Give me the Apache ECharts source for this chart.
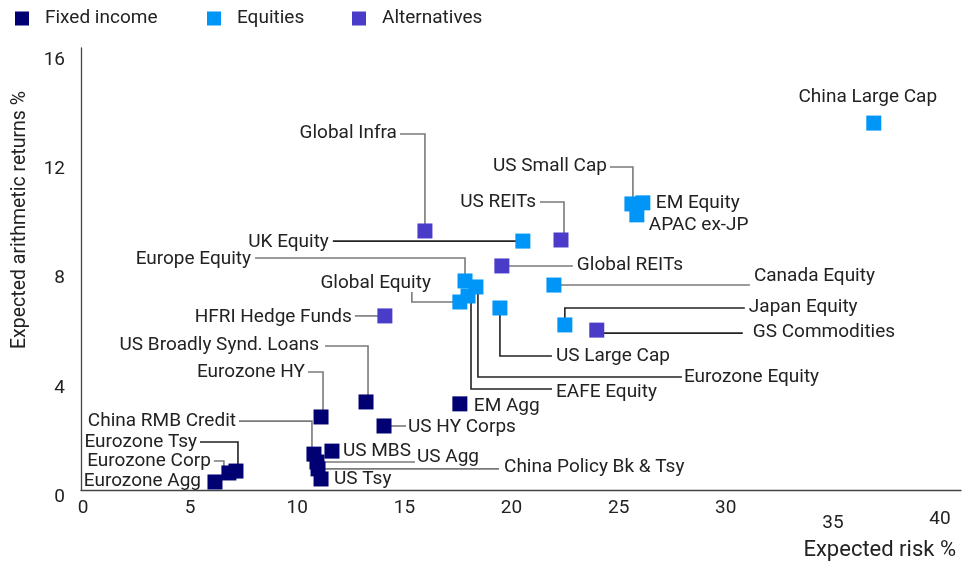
<!DOCTYPE html>
<html>
<head>
<meta charset="utf-8">
<script src="https://cdn.jsdelivr.net/npm/echarts@6/dist/echarts.min.js"></script>
<style>
  html, body { margin: 0; padding: 0; background: #fff; }
  #chart { width: 974px; height: 565px; }
</style>
</head>
<body>
<div id="chart"></div>
<script>
// ---------- DATA ----------
const seriesNames = ['Fixed income', 'Equities', 'Alternatives'];

const fixedNames = ['Eurozone Agg', 'Eurozone Corp', 'Eurozone Tsy', 'China RMB Credit', 'US Agg',
  'China Policy Bk & Tsy', 'US Tsy', 'US MBS', 'Eurozone HY', 'US Broadly Synd. Loans', 'US HY Corps', 'EM Agg'];
const fixedRisk   = [6.16, 6.81, 7.14, 10.78, 10.92, 10.97, 11.11, 11.62, 11.11, 13.21, 14.05, 17.59];
const fixedReturn = [0.55, 0.88, 0.95, 1.57, 1.28, 1.03, 0.66, 1.68, 2.93, 3.48, 2.60, 3.41];

const equityNames = ['China Large Cap', 'US Small Cap', 'APAC ex-JP', 'EM Equity', 'UK Equity', 'Europe Equity',
  'Eurozone Equity', 'EAFE Equity', 'Global Equity', 'US Large Cap', 'Canada Equity', 'Japan Equity'];
const equityRisk   = [36.91, 25.62, 25.85, 26.13, 20.53, 17.83, 18.34, 17.97, 17.59, 19.46, 21.98, 22.49];
const equityReturn = [13.69, 10.73, 10.33, 10.77, 9.37, 7.91, 7.69, 7.36, 7.14, 6.92, 7.76, 6.30];

const altNames = ['Global Infra', 'US REITs', 'Global REITs', 'HFRI Hedge Funds', 'GS Commodities'];
const altRisk   = [15.96, 22.31, 19.55, 14.09, 23.98];
const altReturn = [9.74, 9.41, 8.46, 6.63, 6.11];

const xTicks = [0, 5, 10, 15, 20, 25, 30, 35, 40];
const yTicks = [0, 4, 8, 12, 16];

// ---------- STYLE / LAYOUT ----------
const colors = ['#000073', '#0096F7', '#4A3BC9'];
const legendLeft = [10, 202, 347];
const FONT = 'Roboto';
const TXT = '#222222';
const G = '#7a7a7a';
const K = '#222222';

// label offsets (pixels, relative to the marker centre) and leader line shapes
const labelLayout = {
  'Eurozone Agg': { lx: -14, ly: -1, al: 'right' },
  'Eurozone Corp': { pts: [[-5, 0], [-5, -12], [-15, -12]], lx: -18, ly: -12, al: 'right', c: G },
  'Eurozone Tsy': { pts: [[2, 0], [2, -29], [-36, -29]], lx: -39, ly: -29, al: 'right', c: K },
  'China RMB Credit': { pts: [[-2, 0], [-2, -33], [-75, -33]], lx: -78, ly: -33, al: 'right', c: G },
  'US Tsy': { lx: 13, ly: 0, al: 'left' },
  'US MBS': { lx: 11, ly: 0, al: 'left' },
  'US Agg': { pts: [[98, 0]], lx: 100, ly: -5, al: 'left', c: G },
  'China Policy Bk & Tsy': { pts: [[181, 0]], lx: 186, ly: -2, al: 'left', c: G },
  'Eurozone HY': { pts: [[2, 0], [2, -45], [-13, -45]], lx: -16, ly: -45, al: 'right', c: G },
  'US Broadly Synd. Loans': { pts: [[2, 0], [2, -56], [-41, -56]], lx: -47, ly: -57, al: 'right', c: G },
  'US HY Corps': { pts: [[22, 0]], lx: 24, ly: 1, al: 'left', c: G },
  'EM Agg': { lx: 14, ly: 2, al: 'left' },
  'China Large Cap': { lx: -6, ly: -26, al: 'center' },
  'EM Equity': { lx: 13, ly: 0, al: 'left' },
  'APAC ex-JP': { lx: 12, ly: 10, al: 'left' },
  'US Small Cap': { pts: [[1, 0], [1, -37], [-22, -37]], lx: -25, ly: -38, al: 'right', c: G },
  'UK Equity': { pts: [[-190, 0]], lx: -194, ly: 1, al: 'right', c: K },
  'Europe Equity': { pts: [[0, -23], [-210, -23]], lx: -214, ly: -22, al: 'right', c: G },
  'Global Equity': { pts: [[-48, 0], [-48, -10]], lx: -29, ly: -19, al: 'right', c: G },
  'Eurozone Equity': { pts: [[2, 0], [2, 90], [206, 90]], lx: 208, ly: 90, al: 'left', c: K },
  'EAFE Equity': { pts: [[3, 0], [3, 93], [84, 93]], lx: 88, ly: 96, al: 'left', c: K },
  'US Large Cap': { pts: [[0, 48], [52, 48]], lx: 56, ly: 48, al: 'left', c: K },
  'Canada Equity': { pts: [[196, 0]], lx: 200, ly: -9, al: 'left', c: G },
  'Japan Equity': { pts: [[0, -17], [180, -17]], lx: 184, ly: -18, al: 'left', c: K },
  'Global Infra': { pts: [[0, -97], [-25, -97]], lx: -28, ly: -98, al: 'right', c: G },
  'US REITs': { pts: [[3, 0], [3, -38], [-21, -38]], lx: -25, ly: -38, al: 'right', c: G },
  'Global REITs': { pts: [[71, 0]], lx: 75, ly: -1, al: 'left', c: G },
  'HFRI Hedge Funds': { pts: [[-30, 0]], lx: -33, ly: 1, al: 'right', c: G },
  'GS Commodities': { pts: [[0, 3], [146, 3]], lx: 156, ly: 2, al: 'left', c: K }
};

// ---------- BUILD ----------
function pts(names, xs, ys) { return names.map((n, i) => ({ name: n, value: [xs[i], ys[i]] })); }
const groups = [
  pts(fixedNames, fixedRisk, fixedReturn),
  pts(equityNames, equityRisk, equityReturn),
  pts(altNames, altRisk, altReturn)
];
const allPoints = [].concat(groups[0], groups[1], groups[2]);

function renderLabel(params, api) {
  const item = allPoints[params.dataIndex];
  const L = labelLayout[item.name] || { lx: 12, ly: 0, al: 'left' };
  const p = api.coord([api.value(0), api.value(1)]);
  const children = [];
  if (L.pts) {
    const poly = [[p[0], p[1]]].concat(L.pts.map(d => [p[0] + d[0], p[1] + d[1]]));
    children.push({
      type: 'polyline',
      shape: { points: poly },
      style: { stroke: L.c || G, lineWidth: 1.6, fill: null }
    });
  }
  children.push({
    type: 'text',
    x: p[0] + L.lx, y: p[1] + L.ly,
    style: {
      text: item.name, fill: TXT, font: '19px ' + FONT,
      textAlign: L.al, textVerticalAlign: 'middle'
    }
  });
  return { type: 'group', children: children };
}

const chart = echarts.init(document.getElementById('chart'), null, { renderer: 'canvas' });

const option = {
  animation: false,
  textStyle: { fontFamily: FONT, color: TXT },
  legend: seriesNames.map((n, i) => ({
    data: [n],
    left: legendLeft[i], top: 4,
    icon: 'rect', itemWidth: 14, itemHeight: 14,
    textStyle: { fontFamily: FONT, fontSize: 19, color: TXT, padding: [0, 0, 0, 11] },
    selectedMode: false
  })),
  grid: [
    { left: 83, right: 34, top: 60, bottom: 68 },
    { left: 81, right: 13, top: 48, bottom: 75 }
  ],
  xAxis: [
    {
      type: 'value', gridIndex: 0, min: xTicks[0], max: xTicks[xTicks.length - 1], interval: 5,
      axisLine: { show: false }, axisTick: { show: false }, splitLine: { show: false },
      axisLabel: {
        margin: 2, fontSize: 19, fontFamily: FONT, color: TXT,
        formatter: v => v === 35 ? '{lo|35}' : (v === 40 ? '{mid|40}' : String(v)),
        rich: {
          lo: { padding: [15, 0, 0, 0], fontSize: 19, fontFamily: FONT, color: TXT },
          mid: { padding: [11, 0, 0, 0], fontSize: 19, fontFamily: FONT, color: TXT }
        }
      }
    },
    {
      type: 'value', gridIndex: 1, min: 0, max: 1,
      axisLine: { show: true, lineStyle: { color: '#444', width: 1.3 } },
      axisTick: { show: false }, axisLabel: { show: false }, splitLine: { show: false }
    }
  ],
  yAxis: [
    {
      type: 'value', gridIndex: 0, min: yTicks[0], max: yTicks[yTicks.length - 1], interval: 4,
      axisLine: { show: false }, axisTick: { show: false }, splitLine: { show: false },
      axisLabel: { margin: 18, fontSize: 19, fontFamily: FONT, color: TXT }
    },
    {
      type: 'value', gridIndex: 1, min: 0, max: 1,
      axisLine: { show: true, lineStyle: { color: '#444', width: 1.3 } },
      axisTick: { show: false }, axisLabel: { show: false }, splitLine: { show: false }
    }
  ],
  graphic: [
    {
      type: 'text', x: 20, y: 220, rotation: Math.PI / 2,
      style: {
        text: 'Expected arithmetic returns %', fill: TXT, font: '19.5px ' + FONT,
        textAlign: 'center', textVerticalAlign: 'middle'
      }
    },
    {
      type: 'text', x: 956, y: 550,
      style: {
        text: 'Expected risk %', fill: TXT, font: '22px ' + FONT,
        textAlign: 'right', textVerticalAlign: 'middle'
      }
    }
  ],
  series: [
    {
      name: 'labels', type: 'custom', xAxisIndex: 0, yAxisIndex: 0, z: 1, silent: true, clip: false,
      renderItem: renderLabel,
      data: allPoints.map(p => p.value)
    }
  ].concat(seriesNames.map((n, i) => ({
    name: n, type: 'scatter', xAxisIndex: 0, yAxisIndex: 0, z: 3,
    symbol: 'rect', symbolSize: 15,
    itemStyle: { color: colors[i], opacity: 1 },
    data: groups[i]
  })))
};
chart.setOption(option);
</script>
</body>
</html>
